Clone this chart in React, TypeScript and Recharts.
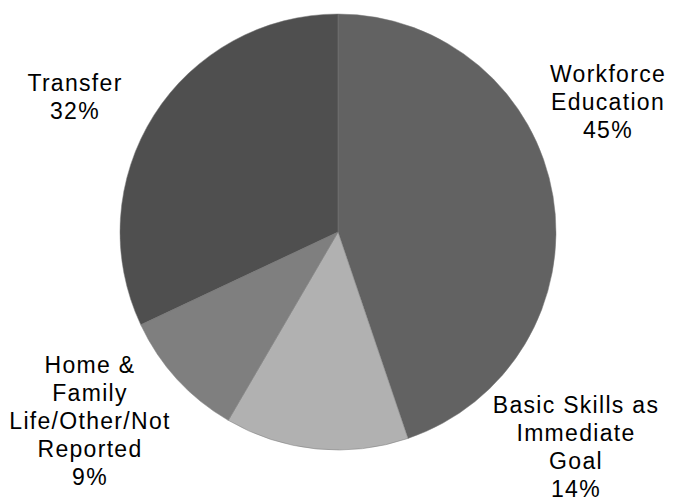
import React from "react";
import { PieChart, Pie, Cell } from "recharts";

const categories = [
  "Workforce Education",
  "Basic Skills as Immediate Goal",
  "Home & Family Life/Other/Not Reported",
  "Transfer",
];
const values = [44.8, 13.6, 9.6, 32.0];
const pctLabels = ["45%", "14%", "9%", "32%"];
const labelLines = [
  ["Workforce", "Education"],
  ["Basic Skills as", "Immediate", "Goal"],
  ["Home &", "Family", "Life/Other/Not", "Reported"],
  ["Transfer"],
];
const colors = ["#626262", "#b1b1b1", "#7f7f7f", "#4f4f4f"];

// label anchor offsets from the pie centre (first baseline)
const labelOffsets = [
  { dx: 270, dy: -150 },
  { dx: 238, dy: 181 },
  { dx: -248, dy: 141 },
  { dx: -263, dy: -141 },
];

const data = categories.map((name, i) => ({ name, value: values[i] }));

const LINE_H = 28;

const renderLabel = (props: any) => {
  const { cx, cy, index } = props;
  const off = labelOffsets[index];
  const lines = [...labelLines[index], pctLabels[index]];
  const x = cx + off.dx;
  const y = cy + off.dy;
  return (
    <text
      key={`lbl-${index}`}
      x={x}
      y={y}
      textAnchor="middle"
      fill="#000"
      fontSize={23}
      fontFamily="'Liberation Sans', Arial, sans-serif"
      style={{ letterSpacing: "1.3px" }}
    >
      {lines.map((l, i) => (
        <tspan key={i} x={x} y={y + i * LINE_H}>
          {l}
        </tspan>
      ))}
    </text>
  );
};

export default function App() {
  return (
    <div style={{ position: "absolute", left: 0, top: 0, background: "#fff" }}>
      <PieChart width={673} height={500} margin={{ top: 0, right: 0, bottom: 0, left: 0 }}>
        <Pie
          data={data}
          dataKey="value"
          nameKey="name"
          cx={338}
          cy={232}
          outerRadius={218}
          startAngle={90}
          endAngle={-270}
          stroke="#7a7a7a"
          strokeWidth={0.5}
          label={renderLabel}
          labelLine={false}
          isAnimationActive={false}
        >
          {data.map((d, i) => (
            <Cell key={d.name} fill={colors[i]} />
          ))}
        </Pie>
      </PieChart>
    </div>
  );
}
